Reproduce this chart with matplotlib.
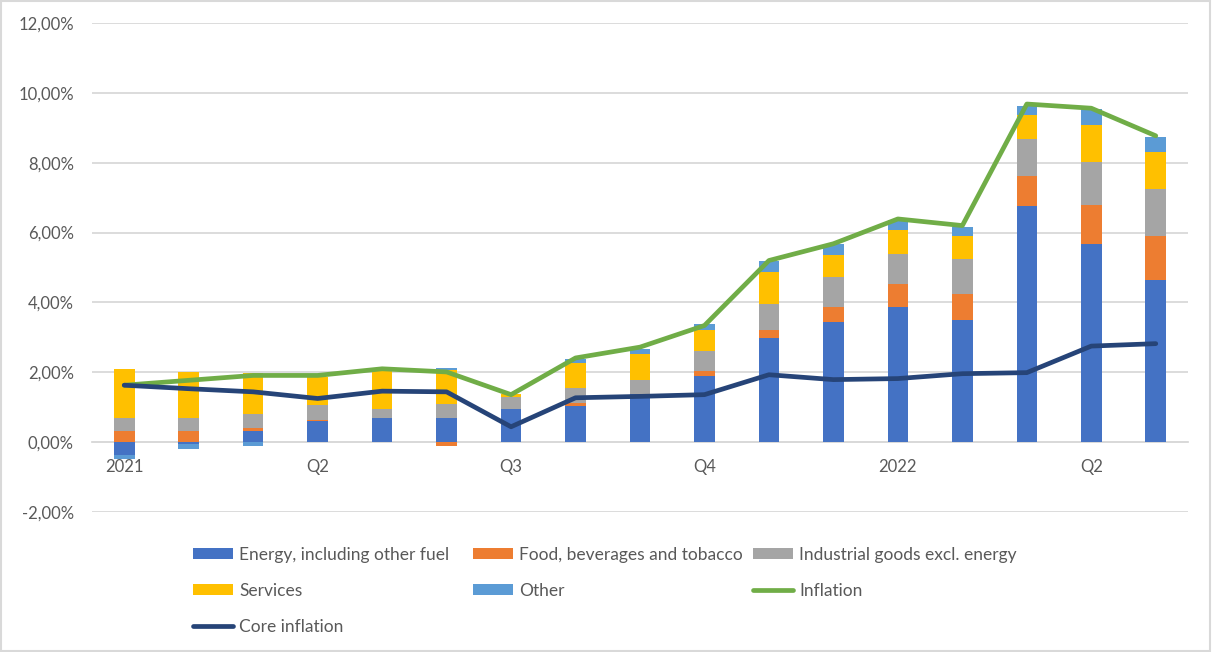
import numpy as np
import matplotlib
matplotlib.use("Agg")
import matplotlib.pyplot as plt
from matplotlib.patches import Rectangle

# monthly contributions to inflation, Jan 2021 - May 2022 (percentage points)
months = ["2021", "", "", "Q2", "", "", "Q3", "", "", "Q4", "", "",
          "2022", "", "", "Q2", ""]
energy = [-0.37, -0.05, 0.32, 0.60, 0.69, 0.69, 0.96, 1.03, 1.39, 1.89,
          2.98, 3.44, 3.87, 3.51, 6.75, 5.66, 4.65]
food = [0.32, 0.32, 0.09, 0.03, 0.00, -0.10, 0.00, 0.09, 0.00, 0.14,
        0.24, 0.43, 0.66, 0.72, 0.86, 1.14, 1.26]
industrial = [0.37, 0.37, 0.41, 0.43, 0.27, 0.40, 0.33, 0.43, 0.40, 0.58,
              0.74, 0.85, 0.86, 1.00, 1.07, 1.21, 1.34]
services = [1.40, 1.32, 1.17, 0.81, 1.10, 0.97, 0.10, 0.72, 0.74, 0.59,
            0.91, 0.64, 0.67, 0.66, 0.68, 1.08, 1.07]
other = [-0.12, -0.15, -0.10, 0.00, 0.00, 0.07, 0.00, 0.12, 0.15, 0.17,
         0.31, 0.32, 0.30, 0.26, 0.27, 0.44, 0.42]
inflation = [1.63, 1.77, 1.91, 1.91, 2.10, 2.01, 1.36, 2.41, 2.72, 3.34,
             5.20, 5.68, 6.39, 6.20, 9.68, 9.56, 8.77]
core = [1.63, 1.53, 1.44, 1.25, 1.46, 1.44, 0.44, 1.27, 1.31, 1.36,
        1.93, 1.79, 1.82, 1.96, 1.99, 2.75, 2.82]

series = [
    ("Energy, including other fuel", energy, "#4472C4"),
    ("Food, beverages and tobacco", food, "#ED7D31"),
    ("Industrial goods excl. energy", industrial, "#A5A5A5"),
    ("Services", services, "#FFC000"),
    ("Other", other, "#5B9BD5"),
]

plt.rcParams['font.family'] = ['Lato', 'DejaVu Sans']
txt_col = "#595959"
grid_col = "#D9D9D9"

fig = plt.figure(figsize=(12.12, 6.52), dpi=100)
ax = fig.add_axes([92/1212, 1 - 512/652, (1188-92)/1212, (512-23)/652])

x = np.arange(len(months))
pos_bottom = np.zeros(len(x))
neg_bottom = np.zeros(len(x))
handles = {}
for name, vals, col in series:
    vals = np.array(vals)
    bottom = np.where(vals >= 0, pos_bottom, neg_bottom)
    h = ax.bar(x, vals, width=0.32, bottom=bottom, color=col, label=name, zorder=2)
    handles[name] = h
    pos_bottom += np.where(vals >= 0, vals, 0)
    neg_bottom += np.where(vals < 0, vals, 0)

l1, = ax.plot(x, inflation, color="#70AD47", lw=3.4, label="Inflation", zorder=3,
              solid_capstyle="round", solid_joinstyle="round")
l2, = ax.plot(x, core, color="#264478", lw=3.4, label="Core inflation", zorder=3,
              solid_capstyle="round", solid_joinstyle="round")
handles["Inflation"] = l1
handles["Core inflation"] = l2

ax.set_ylim(-2, 12)
ax.set_xlim(-0.5, len(x) - 0.5)
yt = np.arange(-2, 13, 2)
ax.set_yticks(yt)
ax.set_yticklabels([f"{v:.2f}%".replace(".", ",") for v in yt])
ax.set_xticks(x)
ax.set_xticklabels(months)
ax.grid(axis="y", color=grid_col, lw=1.3, zorder=0)
for s in ["top", "right", "left"]:
    ax.spines[s].set_visible(False)
ax.spines["bottom"].set_position(("data", 0))
ax.spines["bottom"].set_color(grid_col)
ax.spines["bottom"].set_linewidth(1.3)
ax.spines["bottom"].set_zorder(0)
ax.tick_params(axis="y", length=0, pad=13, labelsize=12, labelcolor=txt_col)
ax.tick_params(axis="x", length=0, pad=12, labelsize=12, labelcolor=txt_col)

# legend, three columns placed like the original
cols = [["Energy, including other fuel", "Services", "Core inflation"],
        ["Food, beverages and tobacco", "Other"],
        ["Industrial goods excl. energy", "Inflation"]]
for i, names in enumerate(cols):
    leg = fig.legend([handles[n] for n in names], names,
                     loc="upper left", bbox_to_anchor=((193 + 280*i)/1212, 1 - 547/652),
                     frameon=False, fontsize=12.5, labelcolor=txt_col,
                     borderpad=0, borderaxespad=0, handlelength=2.3,
                     handleheight=0.6, handletextpad=0.35, labelspacing=1.15)

fig.patches.append(Rectangle((0.001, 0.001), 0.997, 0.997, transform=fig.transFigure,
                             fill=False, edgecolor=grid_col, lw=1.5))

fig.savefig("out.png", dpi=100)
